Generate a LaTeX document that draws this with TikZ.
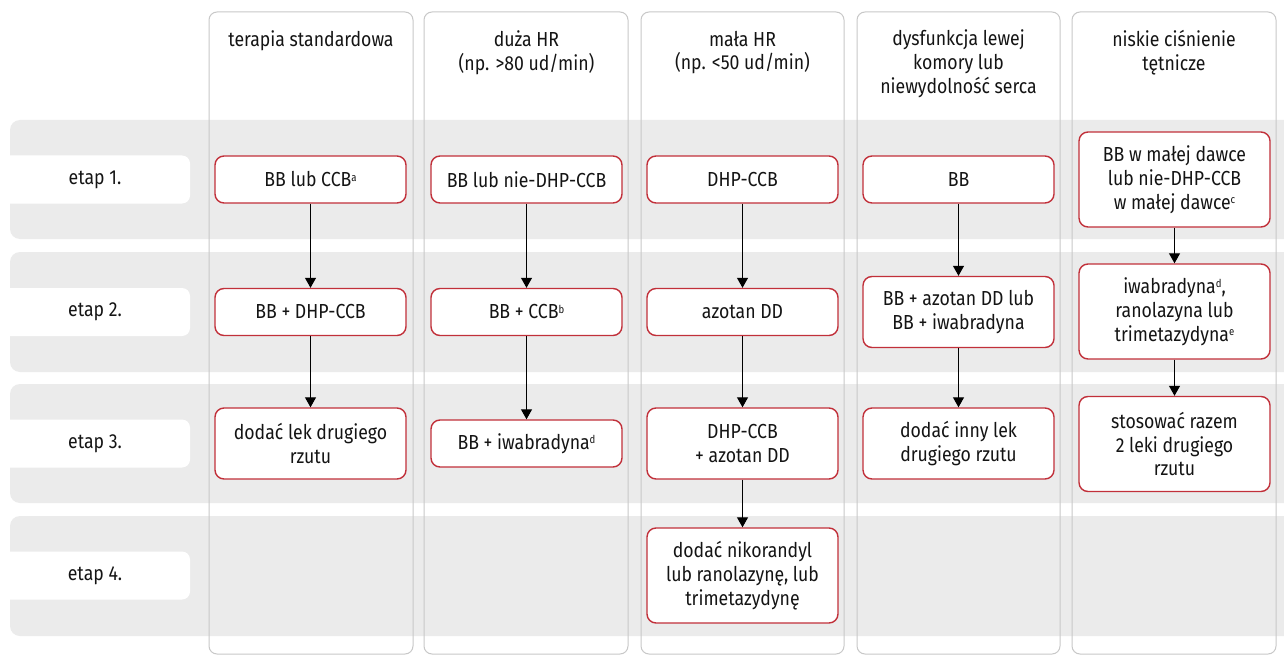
\documentclass[tikz,border=0pt]{standalone}
\usepackage{fontspec}
\setmainfont{Fira Sans}[FakeStretch=0.87]
\usetikzlibrary{arrows.meta}
\definecolor{bandgray}{HTML}{EBEBEB}
\definecolor{colgray}{HTML}{C8C8C8}
\definecolor{boxred}{HTML}{C1303A}
\definecolor{txt}{HTML}{141414}
\newcommand\sups[1]{\raisebox{5.5pt}{\fontsize{11}{11}\selectfont #1}}
\tikzset{
  x=1pt, y=-1pt,
  every node/.style={font=\fontsize{20.3}{23.8}\selectfont, text=txt},
  band/.style={fill=bandgray, rounded corners=10pt},
  colframe/.style={draw=colgray, line width=1pt, rounded corners=8pt},
  stagebox/.style={fill=white, rounded corners=8pt, minimum width=190pt, minimum height=48pt, inner sep=0pt},
  drugbox/.style={draw=boxred, fill=white, line width=1.4pt, rounded corners=9pt, minimum width=191pt, minimum height=47pt, align=center, inner sep=0pt},
  head/.style={align=center, inner sep=0pt},
  flow/.style={draw=black, line width=1.1pt, -{Triangle[width=11pt,length=10pt]}}
}
\begin{document}
\begin{tikzpicture}
\clip (0,0) rectangle (1284,655);
\fill[white] (0,0) rectangle (1284,655);
% bands
\fill[band] (10,120) rectangle (1310,239);
\fill[band] (10,252) rectangle (1310,372);
\fill[band] (10,384) rectangle (1310,503);
\fill[band] (10,516) rectangle (1310,636);
% stage labels
\node[stagebox] (s1) at (95,179.5) {etap 1.};
\node[stagebox] (s2) at (95,312) {etap 2.};
\node[stagebox] (s3) at (95,443.5) {etap 3.};
\node[stagebox] (s4) at (95,575.5) {etap 4.};
% column frames
\draw[colframe] (209,12) rectangle (413,654);
\draw[colframe] (424,12) rectangle (628,654);
\draw[colframe] (641,12) rectangle (844,654);
\draw[colframe] (857,12) rectangle (1060,654);
\draw[colframe] (1072,12) rectangle (1276,654);
% headers
\node[head] (h1) at (311,41) {terapia standardowa};
\node[head] (h2) at (526.5,52.5) {duża HR\\(np. >80 ud/min)};
\node[head] (h3) at (742.5,52.5) {mała HR\\(np. <50 ud/min)};
\node[head] (h4) at (958.5,64) {dysfunkcja lewej\\komory lub\\niewydolność serca};
\node[head] (h5) at (1174,52.5) {niskie ciśnienie\\tętnicze};
% column 1
\node[drugbox] (a1) at (310.5,179.5) {BB lub CCB\sups{a}};
\node[drugbox] (a2) at (310.5,312) {BB + DHP-CCB};
\node[drugbox, minimum height=71pt] (a3) at (310.5,443.5) {dodać lek drugiego\\rzutu};
% column 2
\node[drugbox] (b1) at (526.5,179.5) {BB lub nie-DHP-CCB};
\node[drugbox] (b2) at (526.5,312) {BB + CCB\sups{b}};
\node[drugbox] (b3) at (526.5,443.5) {BB + iwabradyna\sups{d}};
% column 3
\node[drugbox] (c1) at (742.5,179.5) {DHP-CCB};
\node[drugbox] (c2) at (742.5,312) {azotan DD};
\node[drugbox, minimum height=71pt] (c3) at (742.5,443.5) {DHP-CCB\\+ azotan DD};
\node[drugbox, minimum height=95pt] (c4) at (742.5,575.5) {dodać nikorandyl\\lub ranolazynę, lub\\trimetazydynę};
% column 4
\node[drugbox] (d1) at (958.5,179.5) {BB};
\node[drugbox, minimum height=71pt] (d2) at (958.5,312) {BB + azotan DD lub\\BB + iwabradyna};
\node[drugbox, minimum height=71pt] (d3) at (958.5,443.5) {dodać inny lek\\drugiego rzutu};
% column 5
\node[drugbox, minimum height=95pt] (e1) at (1174.5,179.5) {BB w małej dawce\\lub nie-DHP-CCB\\w małej dawce\sups{c}};
\node[drugbox, minimum height=95pt] (e2) at (1174.5,311.5) {iwabradyna\sups{d},\\ranolazyna lub\\trimetazydyna\sups{e}};
\node[drugbox, minimum height=95pt] (e3) at (1174.5,444) {stosować razem\\2 leki drugiego\\rzutu};
% arrows
\draw[flow] (a1) -- (a2);
\draw[flow] (a2) -- (a3);
\draw[flow] (b1) -- (b2);
\draw[flow] (b2) -- (b3);
\draw[flow] (c1) -- (c2);
\draw[flow] (c2) -- (c3);
\draw[flow] (c3) -- (c4);
\draw[flow] (d1) -- (d2);
\draw[flow] (d2) -- (d3);
\draw[flow] (e1) -- (e2);
\draw[flow] (e2) -- (e3);
\end{tikzpicture}
\end{document}
